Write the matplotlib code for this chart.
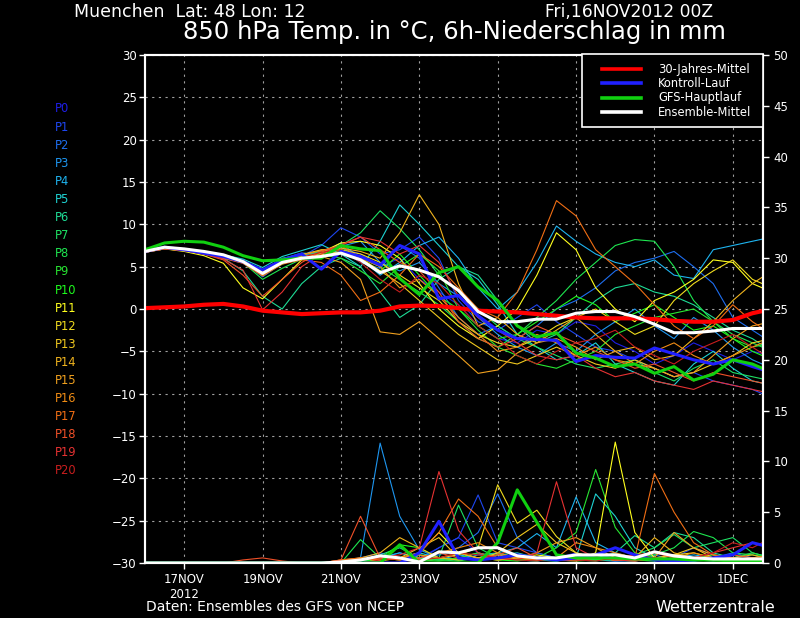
import matplotlib
matplotlib.use("Agg")
import matplotlib.pyplot as plt
from matplotlib.lines import Line2D
from matplotlib.patches import Rectangle

# forecast time axis: 12h steps from 16NOV2012 00Z
hours = list(range(0, 385, 12))

tick_days = [1, 3, 5, 7, 9, 11, 13, 15]
tick_labels = ["17NOV\n2012", "19NOV", "21NOV", "23NOV", "25NOV", "27NOV", "29NOV", "1DEC"]

member_names = ["P%d" % i for i in range(21)]
member_colors = ["#1e1ee6", "#1e46f0", "#1e6ef0", "#1e96f0", "#1eb4f0", "#1ed2d2",
                 "#1edc96", "#1ee164", "#1ee650", "#28e632", "#1efa1e", "#ffff1e",
                 "#f0dc1e", "#f0c81e", "#f0b41e", "#f0a01e", "#f08c14", "#f06e14",
                 "#f05028", "#e63232", "#c81e1e"]

# 850 hPa temperature per member (deg C)
temp_members = [
    [6.7, 7.1, 6.9, 6.5, 6.0, 5.4, 4.0, 5.8, 6.5, 6.0, 7.2, 6.5, 5.0, 6.0, 3.5, 2.0, 0.5, -2.0, -3.5, -4.0, -2.5, -3.0, -1.5, -2.0, -4.0, -5.0, -6.5, -5.5, -4.0, -5.0, -6.0, -5.0, -5.5],
    [6.8, 7.2, 7.0, 6.6, 6.0, 5.5, 4.5, 5.5, 6.2, 7.5, 9.6, 8.5, 6.5, 7.0, 8.5, 6.0, 1.0, -1.5, -2.5, -1.0, 0.5, -1.5, -3.0, -4.5, -5.0, -6.0, -7.0, -8.0, -7.5, -8.5, -9.0, -9.5, -10.5],
    [6.9, 7.3, 7.1, 6.7, 6.2, 5.6, 3.8, 5.4, 6.3, 6.8, 7.0, 5.5, 4.8, 7.5, 6.0, 2.5, -1.0, -3.0, -2.0, -3.5, -2.0, 0.0, 1.0, 2.5, 4.5, 5.5, 6.0, 6.8, 5.0, 3.0, -1.0, -2.5, -4.0],
    [6.8, 7.2, 7.0, 6.7, 6.3, 5.8, 4.2, 5.7, 6.4, 6.9, 7.4, 8.0, 5.5, 4.5, 5.5, 3.0, 1.5, -1.0, -3.0, -4.5, -5.5, -4.0, -5.0, -3.0, -1.5, 0.0, -2.0, -3.5, -1.0, -2.5, -4.5, -6.0, -7.0],
    [6.7, 7.2, 7.0, 6.6, 6.2, 5.7, 4.6, 5.9, 6.6, 6.5, 7.8, 6.0, 4.0, 5.5, 7.5, 8.5, 6.0, 2.5, 0.0, 2.0, 5.5, 9.8, 8.0, 6.5, 5.5, 5.0, 5.8, 4.0, 3.6, 7.0, 7.5, 8.0, 8.5],
    [6.8, 7.3, 7.1, 6.8, 6.4, 5.9, 4.9, 6.2, 6.9, 7.6, 6.5, 5.0, 8.0, 12.3, 10.0, 7.5, 5.0, 3.5, 0.5, -3.0, -4.5, -6.0, -5.5, -4.0, -6.5, -7.5, -8.5, -9.0, -6.5, -5.0, -7.0, -8.5, -9.0],
    [6.8, 7.2, 7.0, 6.6, 6.0, 4.5, 1.5, 0.0, 3.0, 5.0, 6.0, 5.0, 2.0, -1.0, 0.5, 3.5, 5.0, 4.0, 1.0, -2.0, -4.0, -3.0, -1.0, 1.0, 2.5, 3.0, 2.0, 1.5, 0.5, -1.0, -2.5, -3.5, -5.0],
    [6.9, 7.3, 7.1, 6.7, 6.2, 5.7, 4.5, 6.0, 6.4, 6.8, 7.5, 9.0, 11.6, 9.5, 7.0, 4.0, 2.0, 0.0, -2.0, -3.5, -4.5, -5.5, -6.5, -7.0, -6.5, -6.0, -7.5, -8.5, -7.0, -6.0, -7.5, -8.0, -8.5],
    [6.8, 7.2, 7.0, 6.6, 6.1, 5.5, 3.5, 4.8, 5.9, 6.5, 7.3, 6.0, 5.0, 3.5, 2.0, 0.5, -1.5, -3.5, -4.5, -3.0, -1.0, 1.0, 3.5, 5.5, 7.5, 8.2, 8.0, 5.0, 1.0, -1.5, -3.0, -4.0, -5.0],
    [6.7, 7.1, 6.9, 6.6, 6.1, 5.6, 4.3, 5.6, 6.2, 6.4, 6.0, 4.5, 3.0, 5.0, 6.5, 4.5, 0.0, -2.5, -4.5, -5.5, -6.5, -7.0, -6.0, -5.0, -3.0, -2.0, -1.0, -0.5, 0.0, -1.5, -3.5, -4.5, -4.0],
    [6.8, 7.2, 7.0, 6.6, 6.2, 5.6, 4.0, 5.3, 6.1, 6.6, 7.0, 6.0, 4.5, 6.5, 4.0, 1.5, 0.0, -2.0, -3.5, -3.0, -1.5, 0.0, 1.5, 0.5, -1.5, -0.5, 0.5, -1.0, -2.5, -2.0, -3.5, -5.0, -6.0],
    [6.7, 7.1, 6.8, 6.3, 5.4, 2.5, 1.2, 3.5, 5.8, 6.7, 7.8, 8.0, 7.5, 6.0, 3.0, 0.0, -2.0, -3.5, -2.0, 0.0, 4.0, 9.0, 7.0, 2.5, 0.0, -1.5, 1.0, 2.0, 3.5, 5.8, 5.5, 3.0, 2.0],
    [6.8, 7.2, 7.0, 6.6, 6.2, 5.7, 4.4, 5.7, 6.4, 7.0, 7.0, 6.5, 5.5, 4.0, 2.5, 1.0, -1.5, -3.0, -4.0, -4.5, -3.5, -2.0, -1.0, 0.0, -1.5, -3.0, -2.0, 1.0, 3.0, 4.5, 5.8, 3.5, 2.5],
    [6.8, 7.3, 7.1, 6.7, 6.3, 5.6, 4.2, 5.5, 6.0, 6.4, 6.8, 6.0, 4.5, 3.0, 1.0, -1.0, -3.0, -4.5, -6.0, -6.5, -5.5, -4.5, -5.5, -6.5, -7.0, -6.0, -7.0, -8.0, -7.5, -6.5, -5.5, -4.0, -3.5],
    [6.7, 7.2, 7.0, 6.6, 6.1, 5.5, 4.0, 5.6, 6.2, 6.6, 7.2, 6.8, 6.0, 9.0, 13.5, 10.0, 3.0, -2.0, -1.0, -3.0, -4.0, -2.5, -1.0, -3.0, -5.0, -4.5, -6.0, -5.5, -3.5, -1.5, 1.0, 3.0, 4.5],
    [6.8, 7.2, 7.0, 6.7, 6.2, 5.7, 4.6, 5.8, 6.3, 6.2, 5.5, 3.5, -2.7, -3.0, -1.5, -3.5, -5.5, -7.6, -7.2, -5.2, -4.0, -3.5, -4.5, -6.0, -5.0, -6.5, -7.0, -8.0, -7.5, -5.5, -3.5, -2.0, -1.5],
    [6.8, 7.2, 7.0, 6.6, 6.2, 5.6, 4.4, 5.6, 6.4, 6.9, 7.5, 6.0, 5.0, 2.5, 3.5, 1.5, -1.0, -3.0, -5.0, -4.5, -3.0, -4.0, -5.5, -4.5, -6.0, -6.5, -5.0, -4.0, -5.5, -6.5, -5.5, -4.5, -3.5],
    [6.7, 7.1, 6.9, 6.5, 6.0, 5.4, 3.9, 5.3, 5.8, 5.5, 4.0, 1.0, 2.0, 4.0, 6.5, 5.0, 2.5, 0.0, -1.0, 2.0, 7.0, 12.8, 11.0, 7.0, 5.0, 3.0, 0.5, -2.0, -3.5, -2.0, 0.5, -1.5, -3.0],
    [6.8, 7.2, 7.0, 6.5, 5.8, 4.0, 1.5, 3.5, 5.5, 6.8, 7.5, 8.5, 7.0, 5.5, 4.5, 2.0, -1.5, -3.5, -4.5, -3.5, -2.0, -3.0, -4.0, -5.0, -6.0, -7.0, -6.5, -7.5, -8.5, -7.5, -8.0, -8.5, -9.0],
    [6.7, 7.1, 6.9, 6.5, 5.9, 4.6, -0.1, 2.0, 5.0, 6.5, 7.6, 8.5, 8.0, 6.5, 7.5, 5.5, 1.5, -1.0, -2.5, -4.0, -5.5, -6.0, -5.5, -7.0, -8.0, -7.5, -8.5, -9.0, -9.5, -8.5, -9.0, -9.5, -10.0],
    [6.8, 7.2, 7.0, 6.6, 6.1, 5.5, 4.1, 5.4, 6.1, 6.7, 7.0, 5.5, 3.5, 2.0, 4.0, 3.0, 0.5, -2.0, -3.5, -5.5, -6.5, -5.0, -4.0, -3.5, -2.5, -4.5, -5.5, -6.5, -5.0, -4.0, -3.0, -4.5, -6.0],
]

# 6h precipitation per member (mm)
z10 = [0.0] * 10
precip_members = [
    [0.0] * 14 + [0.5, 1.5, 2.5, 1.0, 0.5, 0.3, 0.2, 0.5, 1.0, 0.5, 0.2, 0.3, 0.5, 0.8, 0.3, 0.2, 0.5, 1.0, 0.5],
    z10 + [0.2, 0.5, 1.0, 0.5, 0.3, 1.5, 2.5, 6.7, 2.0, 1.5, 1.0, 0.5, 0.3, 0.8, 0.5, 0.3, 0.2, 0.5, 1.5, 0.8, 0.5, 0.3, 0.2],
    z10 + [0.0, 0.0, 0.5, 1.0, 0.5, 0.8, 1.5, 3.0, 6.8, 2.5, 1.0, 0.5, 0.5, 0.3, 0.2, 0.5, 0.8, 0.3, 0.2, 0.5, 1.0, 0.5, 0.3],
    z10 + [0.2, 0.5, 11.8, 4.6, 1.3, 0.5, 0.3, 0.8, 1.0, 0.5, 0.3, 0.2, 0.5, 0.3, 0.2, 0.2, 0.5, 0.3, 0.2, 0.3, 0.5, 0.3, 0.2],
    z10 + [0.0, 0.3, 0.5, 1.0, 0.5, 0.3, 0.8, 0.5, 1.0, 1.5, 2.9, 1.5, 6.5, 2.0, 1.0, 0.5, 0.3, 0.5, 0.8, 0.5, 0.3, 0.2, 0.3],
    z10 + [0.0, 0.0, 0.3, 0.5, 1.0, 0.5, 0.3, 0.5, 0.8, 1.0, 0.5, 0.3, 0.5, 6.8, 4.6, 1.5, 0.5, 0.3, 0.2, 0.5, 0.3, 0.2, 0.3],
    z10 + [0.0, 0.3, 0.8, 1.5, 0.5, 0.3, 0.5, 1.0, 0.5, 0.3, 0.2, 0.5, 0.3, 0.5, 1.0, 2.7, 1.5, 3.0, 2.5, 1.0, 0.5, 0.3, 0.5],
    z10 + [0.0, 0.2, 0.3, 0.5, 0.8, 0.5, 5.7, 1.5, 0.5, 0.3, 0.2, 0.5, 0.3, 0.2, 0.5, 0.8, 1.5, 2.8, 1.5, 2.0, 2.5, 1.0, 0.5],
    z10 + [0.0, 2.3, 0.5, 0.3, 0.5, 0.3, 0.2, 0.5, 1.0, 0.5, 0.3, 0.2, 0.5, 0.3, 0.3, 0.5, 0.8, 1.5, 3.1, 2.5, 1.0, 0.8, 0.5],
    z10 + [0.0, 0.0, 0.3, 0.5, 0.3, 0.2, 0.5, 1.0, 0.5, 0.3, 0.5, 1.5, 3.0, 9.2, 3.5, 1.0, 0.5, 0.3, 0.5, 0.8, 0.5, 1.0, 0.5],
    z10 + [0.0, 0.0, 0.5, 1.8, 1.5, 0.5, 0.3, 0.5, 0.3, 0.2, 0.5, 0.3, 0.2, 0.3, 0.5, 0.3, 0.2, 0.5, 0.3, 0.2, 0.3, 0.5, 0.3],
    z10 + [0.0, 0.0, 0.3, 0.5, 1.0, 3.0, 1.0, 0.5, 0.3, 0.5, 0.8, 0.5, 0.3, 1.0, 11.9, 3.0, 0.5, 0.3, 0.5, 0.3, 0.2, 0.3, 0.2],
    z10 + [0.0, 0.0, 0.2, 0.5, 0.3, 0.5, 0.8, 1.5, 7.7, 3.9, 5.2, 2.6, 1.0, 0.5, 0.3, 0.5, 0.3, 0.8, 1.0, 0.5, 0.3, 0.2, 0.3],
    z10 + [0.0, 0.0, 0.3, 0.5, 1.5, 2.5, 0.5, 0.3, 1.0, 2.5, 3.8, 2.0, 1.0, 0.5, 0.3, 0.2, 0.5, 0.8, 1.5, 0.5, 0.3, 0.2, 0.3],
    z10 + [0.0, 0.5, 1.0, 2.5, 1.5, 0.5, 0.3, 0.5, 0.8, 0.5, 0.3, 0.5, 0.8, 0.5, 0.3, 0.5, 2.5, 1.0, 0.5, 0.3, 0.5, 0.8, 0.3],
    z10 + [0.3, 0.5, 0.3, 0.5, 0.8, 0.5, 1.0, 0.5, 0.3, 0.5, 1.0, 2.0, 2.5, 1.5, 0.5, 0.3, 0.5, 3.0, 1.5, 0.8, 0.5, 0.3, 0.5],
    z10 + [0.0, 0.3, 0.5, 0.3, 0.5, 1.0, 1.5, 2.0, 1.0, 0.5, 0.3, 0.5, 2.0, 1.5, 1.0, 0.5, 0.3, 0.5, 1.0, 0.5, 0.3, 0.5, 0.8],
    z10 + [0.3, 0.5, 0.3, 0.5, 1.0, 3.0, 6.3, 4.6, 1.5, 0.5, 0.3, 0.5, 0.8, 0.5, 0.3, 0.5, 8.8, 5.0, 2.0, 0.8, 0.5, 0.3, 0.5],
    [0.0, 0.0, 0.0, 0.0, 0.0, 0.3, 0.5, 0.2, 0.0, 0.0, 0.3, 4.6, 0.5, 0.3, 0.5, 1.0, 0.5, 0.3, 0.8, 1.5, 0.5, 0.3, 0.2, 0.5, 0.3, 0.8, 1.0, 0.5, 0.3, 0.5, 0.8, 0.5, 0.3],
    z10 + [0.0, 0.3, 0.5, 0.8, 1.5, 9.0, 3.2, 1.0, 0.5, 0.3, 1.0, 8.0, 1.5, 0.5, 0.3, 0.2, 0.5, 0.3, 0.5, 1.0, 1.5, 2.0, 1.5],
    z10 + [0.0, 0.0, 0.3, 0.5, 0.3, 0.5, 1.0, 0.8, 0.5, 0.3, 0.2, 0.5, 0.3, 0.2, 0.5, 0.8, 0.5, 0.3, 0.5, 1.0, 2.0, 1.5, 2.5],
]

temp_climate = [0.1, 0.2, 0.3, 0.5, 0.6, 0.3, -0.2, -0.4, -0.6, -0.5, -0.4, -0.4, -0.2, 0.3, 0.4, 0.35, 0.1,
                -0.2, -0.3, -0.4, -0.6, -0.8, -1.0, -1.1, -1.1, -1.1, -1.2, -1.4, -1.5, -1.5, -1.3, -0.5, 0.0]
temp_control = [6.8, 7.3, 7.0, 6.6, 6.2, 5.6, 4.6, 5.8, 6.5, 4.7, 6.8, 6.2, 5.2, 7.5, 6.5, 1.2, 1.6,
                -0.8, -2.5, -3.5, -3.6, -3.7, -6.2, -5.5, -5.7, -5.8, -4.6, -5.3, -6.0, -6.5, -6.0, -6.8, -7.5]
temp_gfs = [7.0, 7.8, 8.0, 7.9, 7.3, 6.3, 5.7, 5.8, 6.0, 6.0, 7.5, 7.1, 6.9, 3.6, 1.7, 4.3, 5.0,
            2.6, 1.0, -2.0, -3.3, -2.8, -5.2, -5.8, -6.8, -6.5, -7.6, -6.8, -8.4, -7.7, -6.0, -6.5, -7.5]
temp_mean = [6.8, 7.3, 7.1, 6.8, 6.4, 5.6, 4.2, 5.5, 6.0, 6.2, 6.6, 5.8, 4.3, 5.1, 4.6, 3.8, 2.2,
             -0.3, -1.5, -1.5, -1.2, -1.2, -0.5, -0.3, -0.3, -0.9, -1.8, -2.8, -2.8, -2.6, -2.3, -2.3, -2.3]

precip_control = [0.0] * 14 + [1.0, 4.1, 0.5, 0.3, 0.5, 0.8, 0.5, 0.3, 0.5, 0.8, 1.5, 0.8, 0.3, 0.2, 0.3, 0.5, 0.8, 2.0, 1.5]
precip_gfs = [0.0] * 13 + [1.8, 0.0, 0.0, 0.0, 0.0, 2.0, 7.2, 4.0, 0.8, 0.5, 0.5, 0.5, 0.4, 0.4, 0.4, 0.3, 0.3, 0.2, 0.2, 0.2]
precip_mean = [0.0] * 10 + [0.1, 0.3, 0.7, 0.5, 0.1, 1.1, 1.0, 1.5, 1.5, 0.7, 0.5, 0.5, 0.8, 0.8, 0.8, 0.5, 1.1, 0.7, 0.5, 0.4, 0.4, 0.4, 0.4]

legend_labels = ["30-Jahres-Mittel", "Kontroll-Lauf", "GFS-Hauptlauf", "Ensemble-Mittel"]

BG = "black"
FG = "white"
GRID = "#a0a0a0"
RED = "#ff0000"
BLUE = "#2020ff"
GREEN = "#10d010"

W, H = 800, 618


def fx(px):
    return px / W


def fy(py):
    return 1 - py / H


days = [h / 24 for h in hours]

fig = plt.figure(figsize=(8, 6.18), dpi=100, facecolor=BG)
ax = fig.add_axes([fx(145), fy(563), 618 / W, 508 / H])
ax.set_facecolor(BG)
ax2 = ax.twinx()

for vals, col in zip(temp_members, member_colors):
    ax.plot(days, vals, color=col, lw=0.8)
for vals, col in zip(precip_members, member_colors):
    ax2.plot(days, vals, color=col, lw=0.8)

ax.plot(days, temp_climate, color=RED, lw=3.0, zorder=5)
ax.plot(days, temp_control, color=BLUE, lw=2.2, zorder=6)
ax.plot(days, temp_gfs, color=GREEN, lw=2.2, zorder=7)
ax.plot(days, temp_mean, color=FG, lw=2.2, zorder=8)
ax2.plot(days, precip_control, color=BLUE, lw=2.2)
ax2.plot(days, precip_gfs, color=GREEN, lw=2.2)
ax2.plot(days, precip_mean, color=FG, lw=2.2)

ax.set_xlim(0, 15.77)
ax.set_ylim(-30, 30)
ax2.set_ylim(0, 50)
ax.set_yticks(range(-30, 31, 5))
ax2.set_yticks(range(0, 51, 5))
ax.set_xticks(tick_days)
ax.set_xticklabels(tick_labels)

ax.grid(True, color=GRID, linestyle=(0, (2, 4)), linewidth=0.8)
ax.set_axisbelow(True)

for a in (ax, ax2):
    for s in a.spines.values():
        s.set_color(FG)
        s.set_linewidth(1.5)
    a.tick_params(colors=FG, labelsize=8.5, length=4, width=1)
ax.tick_params(axis="x", direction="out", pad=3)
ax.tick_params(axis="y", pad=2)

# legend box, drawn by hand to sit exactly in the top-right corner
fig.add_artist(Rectangle((fx(582), fy(127)), (763 - 582) / W, (127 - 54) / H,
                         facecolor=BG, edgecolor=FG, lw=1.2, zorder=10))
for i, (lab, col) in enumerate(zip(legend_labels, [RED, BLUE, GREEN, FG])):
    yy = fy(69 + 14.4 * i)
    fig.add_artist(Line2D([fx(602), fx(641)], [yy, yy], color=col, lw=2.6, zorder=11))
    fig.text(fx(658), yy, lab, color=FG, fontsize=8.3, va="center", zorder=11)

# ensemble member key on the left
for i, (name, col) in enumerate(zip(member_names, member_colors)):
    fig.text(fx(55), fy(109 + 18.1 * i), name, color=col, fontsize=8.3, va="center")

fig.text(fx(74), fy(12), "Muenchen  Lat: 48 Lon: 12", color=FG, fontsize=12.5, va="center")
fig.text(fx(545), fy(12), "Fri,16NOV2012 00Z", color=FG, fontsize=12.3, va="center")
fig.text(fx(454), fy(32), "850 hPa Temp. in °C, 6h-Niederschlag in mm", color=FG,
         fontsize=17.5, ha="center", va="center")
fig.text(fx(146), fy(607), "Daten: Ensembles des GFS von NCEP", color=FG, fontsize=10, va="center")
fig.text(fx(775), fy(607), "Wetterzentrale", color=FG, fontsize=11.5, ha="right", va="center")

fig.savefig("out.png", dpi=100, facecolor=BG)
